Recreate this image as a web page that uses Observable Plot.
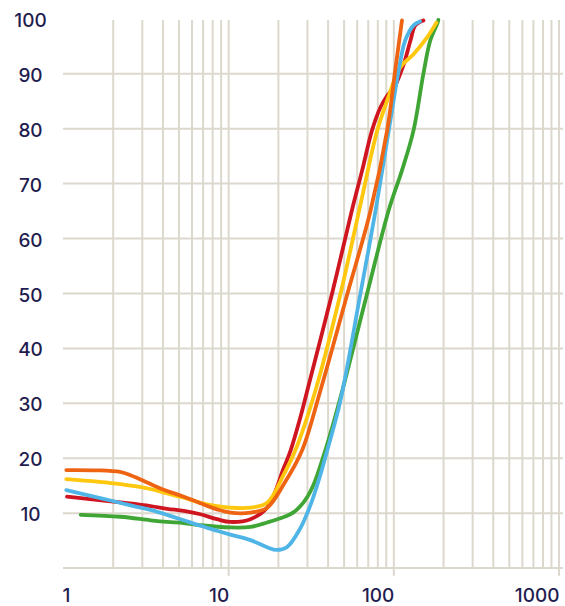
<!DOCTYPE html>
<html>
<head>
<meta charset="utf-8">
<script src="https://cdn.jsdelivr.net/npm/d3@7"></script>
<script src="https://cdn.jsdelivr.net/npm/@observablehq/plot@0.6"></script>
<style>
  html, body { margin: 0; padding: 0; background: #ffffff; }
  #chart svg { display: block; }
</style>
</head>
<body>
<div id="chart"></div>
<script>
// Tick labels and grid positions
const xTickLabels = [1, 10, 100, 1000];
const xMajorTicks = [10, 100, 1000];
const yTickLabels = [10, 20, 30, 40, 50, 60, 70, 80, 90, 100];
const xGrid = [2, 3, 4, 5, 6, 7, 8, 9, 10, 20, 30, 40, 50, 60, 70, 80, 90, 100,
               200, 300, 400, 500, 600, 700, 800, 900, 1000];
const yGrid = [0, 10, 20, 30, 40, 50, 60, 70, 80, 90];

// Series (x, y)
const redX = [1.05, 2.21, 3.36, 4.24, 5.35, 6.75, 8.5, 10.25, 13.55, 17.1, 21.6, 23.7, 27.2, 29.9, 42.2, 55.7, 64.3, 73.8, 83.0, 91.1, 102, 115, 126, 135, 151];
const redY = [13.0, 11.95, 11.3, 10.8, 10.4, 9.8, 8.9, 8.4, 8.9, 11.0, 18.3, 21.4, 27.5, 32.3, 49.9, 65.1, 72.4, 79.7, 83.9, 86.0, 87.9, 91.8, 96.0, 98.8, 99.7];

const orangeX = [1.04, 1.6, 2.2, 2.5, 3.0, 4.0, 5.35, 6.75, 8.5, 10.25, 13.55, 17.1, 21.6, 27.8, 35.9, 52.3, 72.3, 91.1, 101.9, 112];
const orangeY = [17.85, 17.8, 17.5, 17.0, 16.0, 14.3, 13.0, 11.8, 10.7, 10.1, 10.1, 11.0, 15.3, 21.4, 32.3, 49.9, 65.1, 79.7, 90.6, 99.7];

const yellowX = [1.04, 2.21, 3.36, 4.24, 5.35, 6.75, 8.5, 10.25, 13.55, 17.1, 21.6, 25.3, 33.5, 47.5, 62.6, 79.4, 91.1, 109.6, 132, 159, 181];
const yellowY = [16.2, 15.3, 14.4, 13.6, 12.8, 11.9, 11.3, 11.0, 11.0, 11.9, 17.1, 21.4, 32.3, 49.9, 66.0, 79.7, 85.1, 91.2, 93.6, 96.6, 99.3];

const blueX = [1.04, 1.67, 2.66, 3.36, 4.24, 5.35, 6.75, 8.5, 10.25, 13.55, 17.1, 19.5, 22.5, 27.2, 31.3, 35.5, 40.0, 47.5, 62.7, 77.5, 95.3, 107, 117, 131.6, 144];
const blueY = [14.2, 12.75, 11.3, 10.6, 9.7, 8.7, 7.7, 6.8, 6.1, 5.1, 3.8, 3.3, 3.8, 7.3, 11.5, 16.5, 22.0, 30.5, 49.9, 65.1, 81.5, 90.6, 96.0, 98.8, 99.5];

const greenX = [1.27, 2.21, 3.36, 4.24, 5.35, 6.75, 10.25, 13.55, 17.1, 21.6, 24.8, 27.2, 30.0, 32.7, 39.0, 47.0, 68.8, 93.0, 112, 131.6, 151, 166, 183, 186];
const greenY = [9.7, 9.35, 8.7, 8.4, 8.2, 7.8, 7.4, 7.5, 8.3, 9.3, 10.2, 11.3, 13.0, 15.2, 22.0, 30.5, 49.9, 65.1, 72.4, 79.7, 90.0, 96.0, 99.1, 99.8];

const toRows = (xs, ys) => xs.map((x, i) => ({x, y: ys[i]}));
const red = toRows(redX, redY);
const orange = toRows(orangeX, orangeY);
const yellow = toRows(yellowX, yellowY);
const blue = toRows(blueX, blueY);
const green = toRows(greenX, greenY);

const gridColor = "#dcd8cd";
const textColor = "#1f1d4f";
const font = "Inter, Lato, sans-serif";

const lineOpts = (stroke) => ({x: "x", y: "y", stroke, strokeWidth: 3.8, curve: "catmull-rom", strokeLinecap: "round", strokeLinejoin: "round"});

const chart = Plot.plot({
  width: 565,
  height: 606,
  marginLeft: 63,
  marginRight: 6.5,
  marginTop: 18.3,
  marginBottom: 38.4,
  style: {background: "#ffffff", fontFamily: font},
  x: {type: "log", domain: [1, 1000], axis: null},
  y: {domain: [0, 100], axis: null},
  marks: [
    Plot.ruleY(yGrid, {y: d => d, x1: 1, x2: 1065, stroke: gridColor, strokeWidth: 2}),
    Plot.ruleX(xGrid, {x: d => d, y1: 0, y2: 99.7, stroke: gridColor, strokeWidth: 2}),
    Plot.ruleX(xMajorTicks, {x: d => d, y1: -1.5, y2: 0, stroke: gridColor, strokeWidth: 2}),
    Plot.line(green, lineOpts("#3fa535")),
    Plot.line(red, lineOpts("#cf1520")),
    Plot.line(yellow, lineOpts("#ffc70d")),
    Plot.line(blue, lineOpts("#4fb5e6")),
    Plot.line(orange, lineOpts("#ee6412")),
    Plot.text(xTickLabels.filter(d => d === 1), {x: d => d, y: 0, text: d => String(d), dy: 27.5, dx: -1, textAnchor: "start", fill: textColor, fontSize: 19, fontWeight: 500, fontFamily: font}),
    Plot.text(xTickLabels.filter(d => d !== 1), {x: d => d, y: 0, text: d => String(d), dy: 27.5, dx: 0.5, textAnchor: "end", fill: textColor, fontSize: 19, fontWeight: 500, fontFamily: font}),
    Plot.text(yTickLabels, {x: 1, y: d => d, text: d => String(d), dx: -33, dy: 2, textAnchor: "middle", fill: textColor, fontSize: 19, fontWeight: 500, fontFamily: font})
  ]
});
document.getElementById("chart").appendChild(chart);
</script>
</body>
</html>
